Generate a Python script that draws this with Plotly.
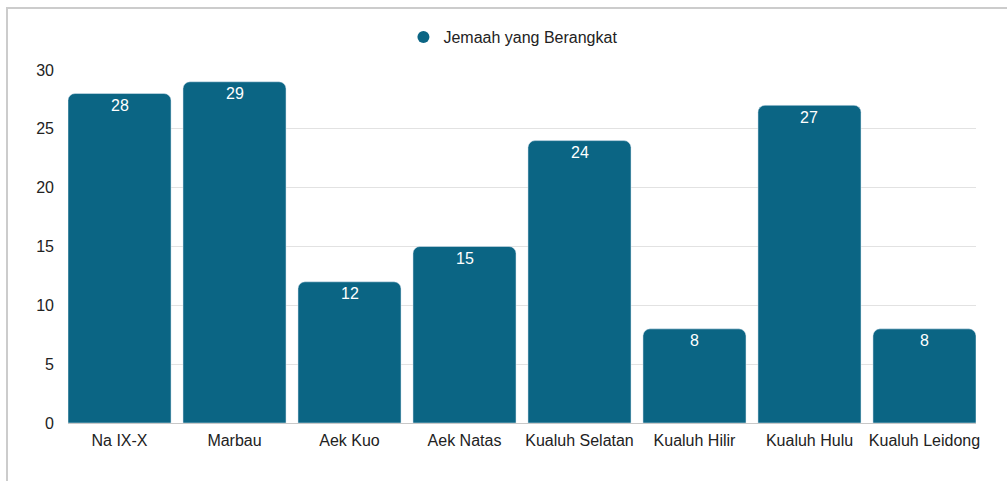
import plotly.graph_objects as go

categories = ["Na IX-X", "Marbau", "Aek Kuo", "Aek Natas", "Kualuh Selatan",
              "Kualuh Hilir", "Kualuh Hulu", "Kualuh Leidong"]
values = [28, 29, 12, 15, 24, 8, 27, 8]
series_name = "Jemaah yang Berangkat"
color = "#0b6584"
FONT = "Liberation Sans, Arial"

W, H = 1007, 481
ml, mr, mt, mb = 68, 31, 70, 58
pw, ph = W - ml - mr, H - mt - mb
gap = 0.104
half = (1 - gap) / 2
xs = list(range(len(categories)))

fig = go.Figure()
fig.add_trace(go.Bar(
    x=xs, y=values, marker=dict(color=color, cornerradius=7),
    showlegend=False, hoverinfo="x+y", name=series_name,
))
fig.add_trace(go.Scatter(
    x=[None], y=[None], mode="markers", name=series_name,
    marker=dict(color=color, size=16, symbol="circle"),
))

def px_x(p):
    return (p - ml) / pw

def px_y(p):
    return (H - mb - p) / ph

annotations = [dict(x=x, y=v, text=str(v), showarrow=False, yanchor="middle",
                    yshift=-12, font=dict(color="white", size=16, family=FONT))
               for x, v in zip(xs, values)]

fig.update_layout(
    width=W, height=H,
    margin=dict(l=ml, r=mr, t=mt, b=mb),
    paper_bgcolor="white", plot_bgcolor="white",
    bargap=gap,
    font=dict(family=FONT, size=16, color="#222222"),
    legend=dict(orientation="h", x=0.49, xanchor="center", y=px_y(37), yanchor="middle",
                font=dict(size=16, color="#222222"), itemsizing="constant", itemwidth=30),
    xaxis=dict(
        range=[-half, len(categories) - 1 + half],
        tickmode="array", tickvals=xs, ticktext=categories,
        showgrid=False, zeroline=False, showline=False, ticks="",
        ticklabelstandoff=6,
        tickfont=dict(size=16, color="#222222"),
    ),
    yaxis=dict(
        range=[0, 30], tickvals=[0, 5, 10, 15, 20, 25, 30],
        showgrid=True, gridcolor="#e2e2e2", gridwidth=1,
        zeroline=True, zerolinecolor="#c8c8c8", zerolinewidth=1,
        showline=False, ticks="", ticklabelstandoff=13,
        tickfont=dict(size=16, color="#222222"),
    ),
    annotations=annotations,
    shapes=[dict(type="rect", xref="paper", yref="paper",
                 x0=px_x(7), x1=px_x(1100), y0=px_y(8), y1=px_y(600),
                 line=dict(color="#cccccc", width=2), fillcolor="rgba(0,0,0,0)", layer="below")],
)

fig.write_html("out.html", config={"displayModeBar": False},
               post_script="document.body.style.margin='0';document.body.style.overflow='hidden';")
